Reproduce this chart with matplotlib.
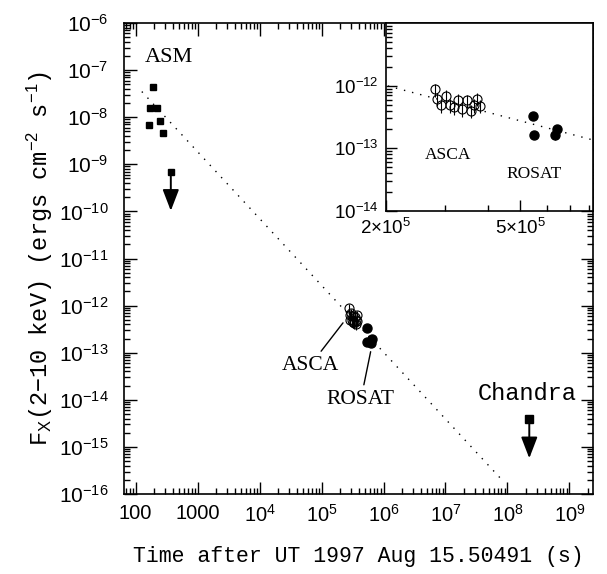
import matplotlib as mpl
mpl.use('Agg')
import matplotlib.pyplot as plt
import matplotlib.ticker as ticker

# ---- data ----
asm_t = [189, 171, 222, 248, 165, 275]
asm_f = [4.4e-8, 1.6e-8, 1.6e-8, 8.4e-9, 6.9e-9, 4.7e-9]
asm_lim_t = [370]
asm_lim_f = [7.0e-10]

asca_t = [2.80e5, 2.83e5, 2.90e5, 3.02e5, 3.09e5, 3.17e5, 3.27e5,
          3.36e5, 3.48e5, 3.56e5, 3.64e5, 3.72e5, 3.79e5]
asca_f = [8.7e-13, 6.2e-13, 4.9e-13, 6.8e-13, 4.9e-13, 4.5e-13, 5.9e-13,
          4.3e-13, 5.8e-13, 4.0e-13, 4.9e-13, 6.2e-13, 4.7e-13]
asca_ferr = [2.0e-13, 1.5e-13, 1.2e-13, 1.6e-13, 1.2e-13, 1.1e-13, 1.4e-13,
             1.1e-13, 1.4e-13, 1.0e-13, 1.2e-13, 1.5e-13, 1.1e-13]

rosat_t = [5.45e5, 5.50e5, 6.41e5, 6.35e5]
rosat_f = [3.3e-13, 1.66e-13, 2.0e-13, 1.62e-13]
rosat_ferr = [4.0e-14, 2.5e-14, 2.5e-14, 2.5e-14]

chandra_lim_t = [2.25e8]
chandra_lim_f = [3.9e-15]

# power-law decay (dotted), end points
fit_t = [126, 7.6e7]
fit_f = [3.5e-8, 2.2e-16]

x_major = [1e2, 1e3, 1e4, 1e5, 1e6, 1e7, 1e8, 1e9]
x_labels = ['100', '1000', r'$10^{4}$', r'$10^{5}$', r'$10^{6}$',
            r'$10^{7}$', r'$10^{8}$', r'$10^{9}$']
inset_x_major = [2e5, 5e5]
inset_x_labels = [r'$2{\times}10^{5}$', r'$5{\times}10^{5}$']
inset_x_minor = [3e5, 4e5, 6e5, 7e5, 8e5]
inset_y_major = [1e-14, 1e-13, 1e-12]

LIM_FACTOR = 6.8   # length of upper-limit arrows (factor in flux)

mpl.rcParams['font.family'] = 'Liberation Sans'
mpl.rcParams['mathtext.fontset'] = 'custom'
mpl.rcParams['mathtext.rm'] = 'Liberation Sans'
mpl.rcParams['mathtext.it'] = 'Liberation Sans:italic'
mpl.rcParams['mathtext.tt'] = 'Liberation Mono'
mpl.rcParams['axes.linewidth'] = 1.2

SERIF = 'Liberation Serif'
MONO = 'Liberation Mono'


def draw_points(a, ms_c):
    a.errorbar(asca_t, asca_f, yerr=asca_ferr, fmt='o', mfc='none', mec='k',
               ecolor='k', ms=ms_c, mew=0.8, elinewidth=0.8, capsize=0)
    a.errorbar(rosat_t, rosat_f, yerr=rosat_ferr, fmt='o', mfc='k', mec='k',
               ecolor='k', ms=ms_c, elinewidth=0.8, capsize=0)


fig = plt.figure(figsize=(6.07, 5.74), dpi=100)
ax = fig.add_axes([124/607, 1 - 494/574, 469/607, 471/574])

ax.set_xscale('log')
ax.set_yscale('log')
ax.set_xlim(65, 2.4e9)
ax.set_ylim(1e-16, 1e-6)

ax.plot(fit_t, fit_f, color='k', lw=1.0, ls=(0, (1, 5)))
ax.plot(asm_t, asm_f, 's', color='k', ms=5)
ax.plot(asm_lim_t, asm_lim_f, 's', color='k', ms=5)
ax.plot(chandra_lim_t, chandra_lim_f, 's', color='k', ms=6)
for t, f in zip(asm_lim_t + chandra_lim_t, asm_lim_f + chandra_lim_f):
    ax.annotate('', xy=(t, f / LIM_FACTOR), xytext=(t, f),
                arrowprops=dict(arrowstyle='-|>,head_length=1.3,head_width=0.5',
                                color='k', lw=1.4, shrinkA=0, shrinkB=0))
draw_points(ax, 6.5)

ax.text(143, 1.15e-7, 'ASM', family=SERIF, fontsize=16, ha='left', va='bottom')
ax.annotate('ASCA', xy=(2.22e5, 4.3e-13), xytext=(6.5e4, 5.3e-14),
            family=SERIF, fontsize=15.5, ha='center', va='center',
            arrowprops=dict(arrowstyle='-', color='k', lw=1.0, shrinkA=2, shrinkB=0))
ax.annotate('ROSAT', xy=(6.2e5, 1.05e-13), xytext=(4.3e5, 1.0e-14),
            family=SERIF, fontsize=15.5, ha='center', va='center',
            arrowprops=dict(arrowstyle='-', color='k', lw=1.0, shrinkA=2, shrinkB=0))
ax.text(1.32e9, 1.39e-14, 'Chandra', family=MONO, fontsize=17,
        ha='right', va='center')

ax.xaxis.set_major_locator(ticker.FixedLocator(x_major))
ax.xaxis.set_major_formatter(ticker.FixedFormatter(x_labels))
ax.xaxis.set_minor_locator(ticker.LogLocator(base=10, subs=range(2, 10), numticks=20))
ax.xaxis.set_minor_formatter(ticker.NullFormatter())
ax.yaxis.set_major_locator(ticker.LogLocator(base=10, numticks=20))
ax.yaxis.set_minor_locator(ticker.LogLocator(base=10, subs=range(2, 10), numticks=20))
ax.yaxis.set_minor_formatter(ticker.NullFormatter())
ax.tick_params(which='both', direction='in', top=True, right=True,
               labelsize=14.5, width=1.0)
ax.tick_params(which='major', length=9)
ax.tick_params(which='minor', length=4.5)
ax.tick_params(axis='x', pad=7)
ax.tick_params(axis='y', labelsize=15, pad=11)

ax.set_xlabel('Time after UT 1997 Aug 15.50491 (s)', family=MONO, fontsize=15.5,
              labelpad=15)
ax.set_ylabel(r'F$_{\rm X}$(2$-$10 keV) (ergs cm$^{-2}$ s$^{-1}$)', family=MONO,
              fontsize=17, labelpad=3)

# ---- inset ----
ins = fig.add_axes([386/607, 1 - 211/574, 207/607, 188/574])
ins.set_xscale('log')
ins.set_yscale('log')
ins.set_xlim(2e5, 8.2e5)
ins.set_ylim(1e-14, 1e-11)
ins.plot(fit_t, fit_f, color='k', lw=1.0, ls=(0, (1, 5)))
draw_points(ins, 6.5)
ins.text(3.06e5, 7.7e-14, 'ASCA', family=SERIF, fontsize=12.5, ha='center', va='center')
ins.text(5.48e5, 3.95e-14, 'ROSAT', family=SERIF, fontsize=12.5, ha='center', va='center')

ins.xaxis.set_major_locator(ticker.FixedLocator(inset_x_major))
ins.xaxis.set_major_formatter(ticker.FixedFormatter(inset_x_labels))
ins.xaxis.set_minor_locator(ticker.FixedLocator(inset_x_minor))
ins.xaxis.set_minor_formatter(ticker.NullFormatter())
ins.yaxis.set_major_locator(ticker.FixedLocator(inset_y_major))
ins.yaxis.set_major_formatter(ticker.LogFormatterMathtext())
ins.yaxis.set_minor_locator(ticker.LogLocator(base=10, subs=range(2, 10), numticks=10))
ins.yaxis.set_minor_formatter(ticker.NullFormatter())
ins.tick_params(which='both', direction='in', top=False, right=False,
                labelsize=13.5, width=1.0)
ins.tick_params(which='major', length=8)
ins.tick_params(which='minor', length=4)
ins.tick_params(axis='x', pad=5)
ins.tick_params(axis='y', pad=5)

fig.savefig('out.png', dpi=100)
